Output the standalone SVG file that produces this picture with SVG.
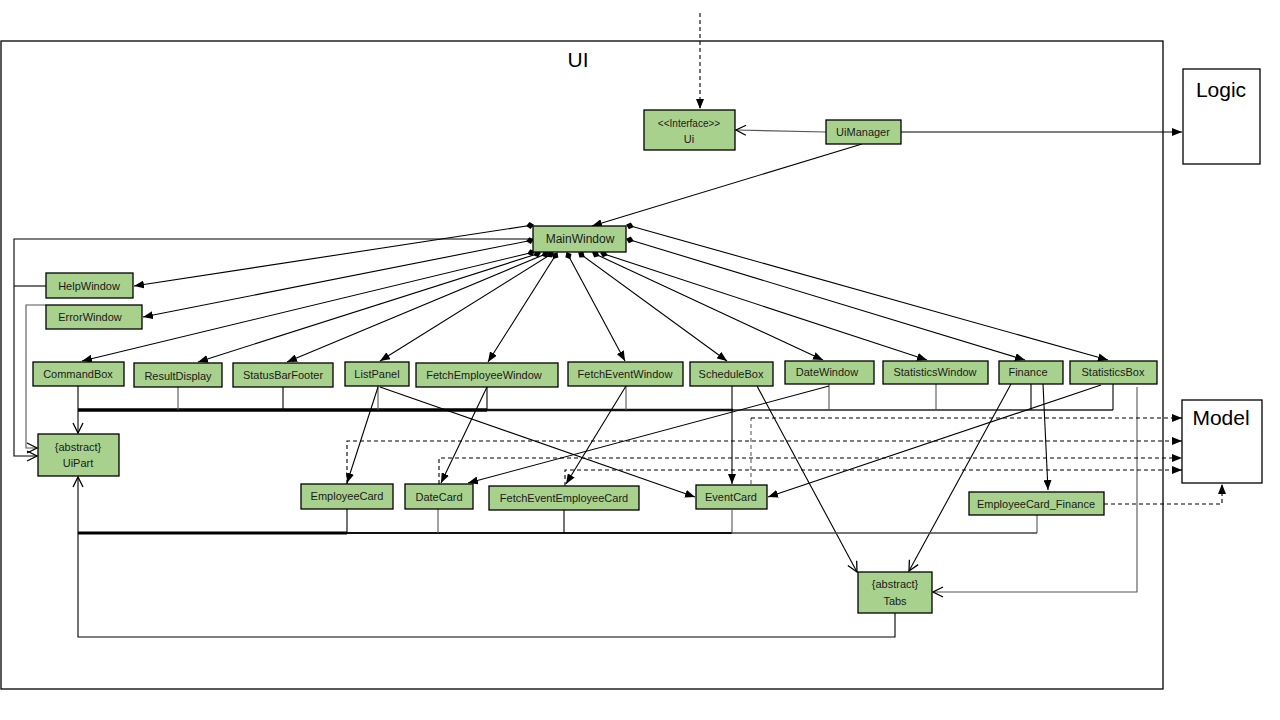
<svg xmlns="http://www.w3.org/2000/svg" width="1280" height="720" viewBox="0 0 1280 720">
<defs>
<style>
.n{fill:#a9d18e;stroke:#000;stroke-width:1.3}
.b{fill:#fff;stroke:#000;stroke-width:1.3}
.t{font-family:"Liberation Sans",Arial,sans-serif;font-size:11px;fill:#1a1a1a;text-anchor:middle}
.big{font-family:"Liberation Sans",Arial,sans-serif;font-size:21px;fill:#000;text-anchor:middle}
.l{fill:none;stroke:#000;stroke-width:1.1}
.g{fill:none;stroke:#555;stroke-width:1.1}
.d{fill:none;stroke:#000;stroke-width:1.1;stroke-dasharray:4 3}
.dg{fill:none;stroke:#777;stroke-width:1.3;stroke-dasharray:4 3}
.fa{marker-end:url(#fa)}
.oa{marker-end:url(#oa)}
.dm{marker-start:url(#dm)}
</style>
<marker id="fa" viewBox="0 0 10 8" refX="10" refY="4" markerWidth="10" markerHeight="8" markerUnits="userSpaceOnUse" orient="auto"><path d="M0,0 L10,4 L0,8 z" fill="#000"/></marker>
<marker id="oa" viewBox="0 0 12 12" refX="11" refY="6" markerWidth="12" markerHeight="12" markerUnits="userSpaceOnUse" orient="auto"><path d="M1,1 L11,6 L1,11" fill="none" stroke="#000" stroke-width="1.3"/></marker>
<marker id="dm" viewBox="0 0 8 8" refX="1" refY="4" markerWidth="8" markerHeight="8" markerUnits="userSpaceOnUse" orient="auto"><path d="M0,4 L4,0.5 L8,4 L4,7.5 z" fill="#000"/></marker>
</defs>
<rect width="1280" height="720" fill="#fff"/>

<g id="frame">
<rect x="1" y="41" width="1162" height="648" fill="none" stroke="#000" stroke-width="1.3"/>
<text class="big" x="578" y="67">UI</text>
</g>

<g id="connectors">
<!-- external -->
<path class="d fa" d="M700,13 L700,109"/>
<path class="g oa" d="M826,132 L736,130"/>
<path class="l fa" d="M901,132 L1182,132"/>
<path class="l fa" d="M862,144 L592,226"/>
<!-- MainWindow compositions -->
<path class="l dm fa" d="M533,225 L134,286"/>
<path class="l dm fa" d="M533,240 L143,317"/>
<path class="l dm fa" d="M534,252 L82,361"/>
<path class="l dm fa" d="M540,253 L198,362"/>
<path class="l dm fa" d="M548,253 L287,362"/>
<path class="l dm fa" d="M553,253 L380,361"/>
<path class="l dm fa" d="M557,253 L488,362"/>
<path class="l dm fa" d="M567,253 L625,361"/>
<path class="l dm fa" d="M579,253 L727,361"/>
<path class="l dm fa" d="M593,253 L823,360"/>
<path class="l dm fa" d="M601,253 L927,360"/>
<path class="l dm fa" d="M627,239 L1025,360"/>
<path class="l dm fa" d="M627,225 L1108,360"/>
<!-- inheritance to UiPart from left -->
<path class="l oa" d="M533,239 L14,239 L14,456 L37,456"/>
<path class="l" d="M46,286 L14,286"/>
<path class="g oa" d="M46,305 L26,305 L26,448 L37,448"/>
<!-- bus 1 -->
<path fill="none" stroke="#000" stroke-width="3.5" d="M78,410 L487,410"/>
<path fill="none" stroke="#111" stroke-width="2.5" d="M487,410 L733,410"/>
<path fill="none" stroke="#222" stroke-width="1.5" d="M733,410 L1113,410"/>
<path class="l oa" d="M78,386 L78,433"/>
<path class="g" d="M178,387 L178,410"/>
<path class="l" d="M283,387 L283,410"/>
<path class="g" d="M378,386 L378,410"/>
<path class="l" d="M487,387 L487,410"/>
<path class="g" d="M626,386 L626,410"/>
<path class="g" d="M829,384 L829,410"/>
<path class="g" d="M936,384 L936,410"/>
<path class="l" d="M1031,384 L1031,410"/>
<path class="l" d="M1113,384 L1113,410"/>
<!-- row-1 to row-2 associations -->
<path class="l fa" d="M378,387 L347,483"/>
<path class="l fa" d="M380,387 L695,497"/>
<path class="l fa" d="M487,387 L441,483"/>
<path class="l fa" d="M626,386 L566,484"/>
<path class="l fa" d="M829,386 L468,483"/>
<path class="l fa" d="M732,386 L732,484"/>
<path class="l fa" d="M1101,385 L768,497"/>
<path class="l fa" d="M1043,384 L1048,490"/>
<path class="l oa" d="M757,386 L857,572"/>
<path class="l oa" d="M1011,384 L909,571"/>
<path class="g oa" d="M1137,387 L1137,592 L933,592"/>
<!-- dashed to Model -->
<path class="dg" d="M751,484 L751,418"/>
<path class="d fa" d="M751,418 L1182,418"/>
<path class="d fa" d="M347,484 L347,441 L1182,441"/>
<path class="d fa" d="M439,484 L439,458 L1182,458"/>
<path class="d fa" d="M565,486 L565,470 L1182,470"/>
<path class="d fa" d="M1104,504 L1222,504 L1222,484"/>
<!-- bus 2 -->
<path fill="none" stroke="#000" stroke-width="3" d="M78,533 L347,533"/>
<path fill="none" stroke="#111" stroke-width="2" d="M347,533 L732,533"/>
<path fill="none" stroke="#444" stroke-width="1.5" d="M732,533 L1037,533"/>
<path class="l" d="M347,509 L347,533"/>
<path class="g" d="M438,509 L438,533"/>
<path class="l" d="M564,510 L564,533"/>
<path class="g" d="M732,510 L732,533"/>
<path class="g" d="M1037,515 L1037,533"/>
<path class="l oa" d="M895,613 L895,637 L78,637 L78,477"/>
</g>

<g id="Logic"><rect class="b" x="1183" y="69" width="77" height="95"/><text class="big" x="1221" y="97">Logic</text></g>
<g id="Model"><rect class="b" x="1182" y="400" width="80" height="83"/><text class="big" x="1221" y="425">Model</text></g>

<g id="Ui"><rect class="n" x="644" y="110" width="91" height="40"/><text class="t" x="689" y="127" style="font-size:10px">&lt;&lt;Interface&gt;&gt;</text><text class="t" x="689" y="143">Ui</text></g>
<g id="UiManager"><rect class="n" x="826" y="120" width="75" height="24"/><text class="t" x="863" y="136">UiManager</text></g>
<g id="MainWindow"><rect class="n" x="533" y="226" width="93" height="26"/><text class="t" x="580" y="243" style="font-size:12px">MainWindow</text></g>
<g id="HelpWindow"><rect class="n" x="46" y="273" width="87" height="25"/><text class="t" x="89" y="290">HelpWindow</text></g>
<g id="ErrorWindow"><rect class="n" x="46" y="305" width="96" height="24"/><text class="t" x="90" y="321">ErrorWindow</text></g>
<g id="UiPart"><rect class="n" x="38" y="434" width="81" height="42"/><text class="t" x="78" y="451">{abstract}</text><text class="t" x="78" y="467">UiPart</text></g>

<g id="CommandBox"><rect class="n" x="33" y="362" width="91" height="24"/><text class="t" x="78" y="378">CommandBox</text></g>
<g id="ResultDisplay"><rect class="n" x="134" y="363" width="88" height="24"/><text class="t" x="178" y="380">ResultDisplay</text></g>
<g id="StatusBarFooter"><rect class="n" x="233" y="363" width="100" height="24"/><text class="t" x="283" y="379">StatusBarFooter</text></g>
<g id="ListPanel"><rect class="n" x="345" y="362" width="64" height="24"/><text class="t" x="377" y="378">ListPanel</text></g>
<g id="FetchEmployeeWindow"><rect class="n" x="416" y="363" width="142" height="24"/><text class="t" x="484" y="379">FetchEmployeeWindow</text></g>
<g id="FetchEventWindow"><rect class="n" x="568" y="362" width="115" height="24"/><text class="t" x="625" y="378">FetchEventWindow</text></g>
<g id="ScheduleBox"><rect class="n" x="690" y="362" width="83" height="24"/><text class="t" x="731" y="378">ScheduleBox</text></g>
<g id="DateWindow"><rect class="n" x="785" y="361" width="89" height="23"/><text class="t" x="827" y="376">DateWindow</text></g>
<g id="StatisticsWindow"><rect class="n" x="883" y="361" width="105" height="23"/><text class="t" x="935" y="376">StatisticsWindow</text></g>
<g id="Finance"><rect class="n" x="999" y="361" width="64" height="23"/><text class="t" x="1028" y="376">Finance</text></g>
<g id="StatisticsBox"><rect class="n" x="1070" y="361" width="87" height="23"/><text class="t" x="1113" y="376">StatisticsBox</text></g>

<g id="EmployeeCard"><rect class="n" x="301" y="484" width="92" height="25"/><text class="t" x="347" y="500">EmployeeCard</text></g>
<g id="DateCard"><rect class="n" x="405" y="484" width="68" height="25"/><text class="t" x="439" y="501">DateCard</text></g>
<g id="FetchEventEmployeeCard"><rect class="n" x="489" y="486" width="150" height="24"/><text class="t" x="564" y="502">FetchEventEmployeeCard</text></g>
<g id="EventCard"><rect class="n" x="696" y="485" width="71" height="24"/><text class="t" x="731" y="501">EventCard</text></g>
<g id="EmployeeCard_Finance"><rect class="n" x="969" y="492" width="135" height="23"/><text class="t" x="1036" y="508">EmployeeCard_Finance</text></g>
<g id="Tabs"><rect class="n" x="858" y="572" width="74" height="41"/><text class="t" x="895" y="588">{abstract}</text><text class="t" x="895" y="605">Tabs</text></g>
</svg>
